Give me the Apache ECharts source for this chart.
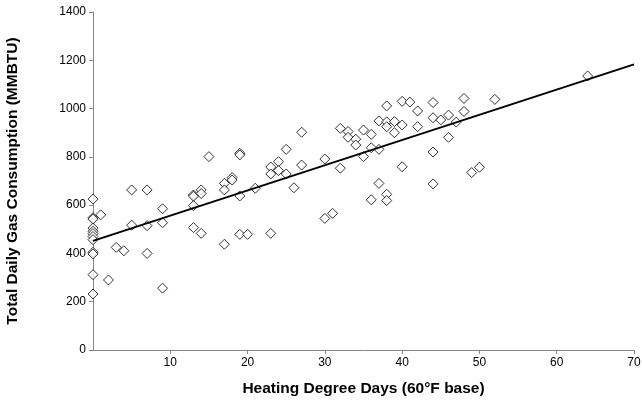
<!DOCTYPE html>
<html>
<head>
<meta charset="utf-8">
<script src="https://cdn.jsdelivr.net/npm/echarts@6/dist/echarts.min.js"></script>
<style>
  html, body { margin: 0; padding: 0; background: #fff; }
  #chart { width: 642px; height: 404px; }
</style>
</head>
<body>
<div id="chart"></div>
<script>
// heating degree days (x) and daily gas use (y)
var hdd = [
  0, 0, 0, 0, 0, 0, 0, 0, 0, 0, 0, 0,
  1, 2, 3, 4, 5, 5, 7, 7, 7, 9, 9, 9,
  13, 13, 13, 13, 14, 14, 14, 15,
  17, 17, 17, 18, 18, 19, 19, 19, 19, 20, 21,
  23, 23, 23, 24, 24, 25, 25, 26, 27, 27,
  30, 30, 31, 32, 32, 33, 33, 34, 34, 35, 35,
  36, 36, 36, 37, 37, 37, 38, 38, 38, 38, 38,
  39, 39, 40, 40, 40, 41, 42, 42,
  44, 44, 44, 44, 45, 46, 46, 47, 48, 48, 49, 50, 52, 64
];
var gas = [
  625, 548, 542, 505, 492, 482, 470, 457, 405, 398, 312, 232,
  560, 290, 425, 411, 663, 517, 663, 515, 400, 585, 527, 256,
  642, 637, 598, 507, 663, 648, 483, 801,
  690, 663, 438, 714, 704, 815, 808, 638, 479, 479, 670,
  758, 729, 483, 780, 743, 831, 729, 672, 902, 766,
  791, 545, 566, 918, 753, 905, 881, 873, 849, 911, 801,
  893, 838, 622, 949, 831, 690, 1011, 945, 925, 645, 619,
  946, 900, 1030, 932, 759, 1027, 990, 925,
  1025, 962, 820, 688, 953, 973, 881, 944, 1042, 988, 735, 757, 1038, 1135
];
// linear trend line end points
var trendX = [0, 70];
var trendY = [452, 1183];

var points = hdd.map(function (x, i) { return [x, gas[i]]; });
var trend = trendX.map(function (x, i) { return [x, trendY[i]]; });

var chart = echarts.init(document.getElementById('chart'));
var axisFont = { fontFamily: 'Liberation Sans, Arial, sans-serif', fontSize: 12, color: '#000' };
var titleFont = { fontFamily: 'Liberation Sans, Arial, sans-serif', fontSize: 15.5, fontWeight: 'bold', color: '#000' };

chart.setOption({
  animation: false,
  grid: { left: 93, right: 8, top: 12, bottom: 54, outerBoundsMode: 'none' },
  xAxis: {
    type: 'value',
    min: 0, max: 70, interval: 10,
    name: 'Heating Degree Days (60°F base)',
    nameLocation: 'middle',
    nameGap: 31,
    nameTextStyle: titleFont,
    axisLine: { lineStyle: { color: '#868686', width: 1 } },
    axisTick: { show: true, length: 4, lineStyle: { color: '#868686' } },
    axisLabel: Object.assign({ showMinLabel: false, margin: 7 }, axisFont),
    splitLine: { show: false }
  },
  yAxis: {
    type: 'value',
    min: 0, max: 1400, interval: 200,
    name: 'Total Daily Gas Consumption (MMBTU)',
    nameLocation: 'middle',
    nameGap: 72,
    nameTextStyle: titleFont,
    axisLine: { show: true, lineStyle: { color: '#868686', width: 1 } },
    axisTick: { show: true, length: 4, lineStyle: { color: '#868686' } },
    axisLabel: Object.assign({ margin: 7, formatter: function (v) { return String(v); } }, axisFont),
    splitLine: { show: false }
  },
  series: [
    {
      type: 'scatter',
      data: points,
      symbol: 'diamond',
      symbolSize: 10,
      itemStyle: { color: '#fff', borderColor: '#000', borderWidth: 1 }
    },
    {
      type: 'line',
      data: trend,
      symbol: 'none',
      lineStyle: { color: '#000', width: 2 },
      z: 3
    }
  ]
});
</script>
</body>
</html>
